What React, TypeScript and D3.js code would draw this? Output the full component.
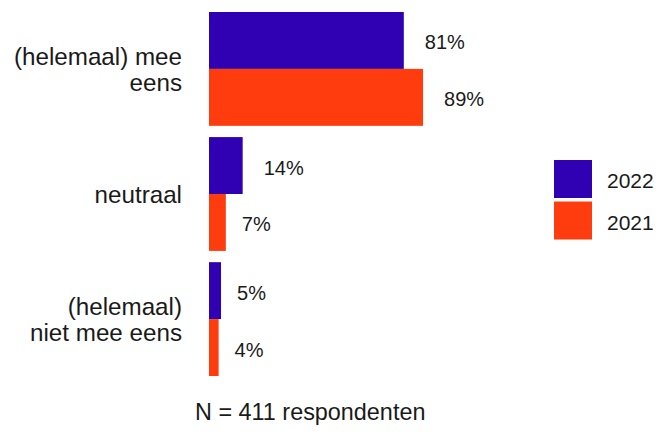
import React from "react";
import * as d3 from "d3";

const categories = ["(helemaal) mee eens", "neutraal", "(helemaal) niet mee eens"];
const categoryLines = [["(helemaal) mee", "eens"], ["neutraal"], ["(helemaal)", "niet mee eens"]];
const years = ["2022", "2021"];
const values2022 = [81, 14, 5];
const values2021 = [89, 7, 4];
const colors = ["#3000B3", "#FF3C0E"];
const caption = "N = 411 respondenten";

const W = 668;
const H = 435;
const FONT = "'Liberation Sans', Arial, sans-serif";
const TEXT = "#1a1a1a";

export default function App() {
  const x = d3.scaleLinear().domain([0, 100]).range([209, 449.5]);
  const y = d3.scaleBand<string>().domain(categories).range([12, 376]).paddingInner(0.09).paddingOuter(0);
  const sub = d3.scaleBand<string>().domain(years).range([0, y.bandwidth()]);
  const color = d3.scaleOrdinal<string, string>().domain(years).range(colors);
  const series = [values2022, values2021];

  return (
    <svg width={W} height={H} style={{ position: "absolute", left: 0, top: 0, background: "#fff" }} fontFamily={FONT}>
      {categories.map((c, ci) => {
        const y0 = y(c)!;
        const center = y0 + y.bandwidth() / 2;
        const lines = categoryLines[ci];
        return (
          <g key={c}>
            {lines.map((ln, li) => (
              <text
                key={li}
                x={182}
                y={center + 9.2 + (li - (lines.length - 1) / 2) * 25.6}
                textAnchor="end"
                fontSize={24.2}
                fill={TEXT}
              >
                {ln}
              </text>
            ))}
            {years.map((yr, yi) => {
              const v = series[yi][ci];
              const by = y0 + sub(yr)!;
              const label = `${v}%`;
              return (
                <g key={yr}>
                  <rect x={x(0)} y={by} width={x(v) - x(0)} height={sub.bandwidth()} fill={color(yr)} />
                  <text
                    x={x(v) + 6 + 5 * label.length}
                    y={by + sub.bandwidth() / 2 + 9}
                    fontSize={20}
                    fill={TEXT}
                  >
                    {label}
                  </text>
                </g>
              );
            })}
          </g>
        );
      })}
      {years.map((yr, i) => (
        <g key={yr}>
          <rect x={554} y={160 + i * 41.5} width={38} height={38} fill={color(yr)} />
          <text x={607} y={160 + i * 41.5 + 19 + 9} fontSize={21} fill={TEXT}>
            {yr}
          </text>
        </g>
      ))}
      <text x={195} y={420} fontSize={23.4} fill={TEXT}>
        {caption}
      </text>
    </svg>
  );
}
